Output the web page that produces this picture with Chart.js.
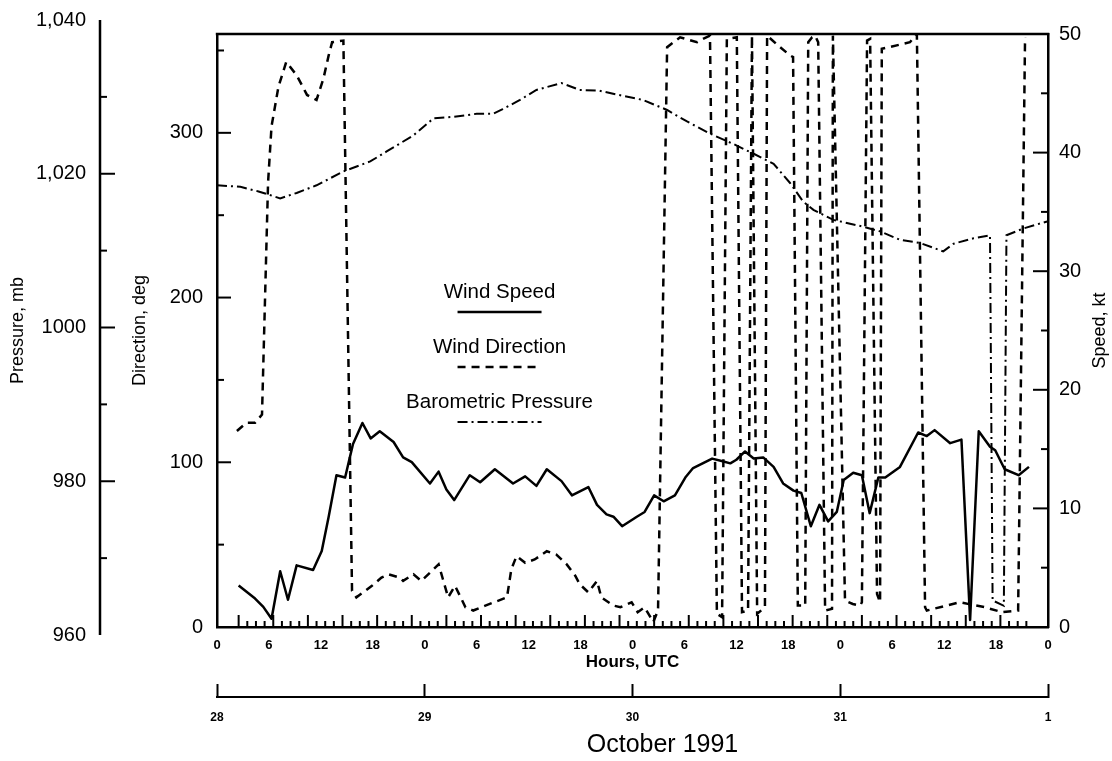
<!DOCTYPE html>
<html>
<head>
<meta charset="utf-8">
<script src="https://cdn.jsdelivr.net/npm/chart.js@4.4.1/dist/chart.umd.min.js"></script>
<style>
html,body{margin:0;padding:0;background:#fff;}
#wrap{width:1112px;height:761px;position:relative;}
</style>
</head>
<body>
<div id="wrap"><canvas id="c"></canvas></div>
<script>
// ---------- data (hours from 00 UTC 28 Oct 1991) ----------
const speedHours = [2.5, 4.4, 5.35, 6.3, 7.3, 8.2, 9.2, 11.1, 12.1, 12.9, 13.8, 14.8, 15.7, 16.8, 17.75, 18.8, 20.4, 21.5, 22.5, 24.6, 25.6, 26.5, 27.4, 29.2, 30.4, 32.1, 34.2, 35.6, 36.9, 38.1, 39.8, 41.0, 42.9, 43.9, 45.0, 45.8, 46.8, 48.5, 49.4, 50.5, 51.6, 52.9, 54.1, 55.0, 57.2, 58.3, 59.3, 60.0, 61.0, 62.0, 63.1, 64.3, 65.4, 66.6, 67.5, 68.6, 69.6, 70.6, 71.6, 72.4, 73.5, 74.5, 75.4, 76.4, 77.2, 78.9, 81.0, 82.0, 82.9, 84.7, 86.0, 87.0, 88.0, 89.3, 89.9, 91.0, 92.6, 93.8];
const speedKt = [3.5, 2.4, 1.7, 0.7, 4.7, 2.3, 5.2, 4.8, 6.4, 9.3, 12.8, 12.6, 15.4, 17.2, 15.9, 16.5, 15.6, 14.3, 13.9, 12.1, 13.1, 11.6, 10.7, 12.8, 12.2, 13.3, 12.1, 12.7, 11.9, 13.3, 12.3, 11.1, 11.8, 10.3, 9.5, 9.3, 8.5, 9.3, 9.7, 11.1, 10.6, 11.1, 12.6, 13.4, 14.2, 14.0, 13.8, 14.1, 14.8, 14.2, 14.3, 13.5, 12.1, 11.5, 11.3, 8.5, 10.3, 8.9, 9.7, 12.4, 13.0, 12.8, 9.6, 12.6, 12.6, 13.5, 16.4, 16.1, 16.6, 15.5, 15.8, 0.6, 16.5, 15.2, 14.9, 13.3, 12.8, 13.5];

const dirHours = [2.3, 3.4, 4.4, 5.2, 5.9, 6.3, 7.1, 8.0, 9.2, 10.4, 11.5, 12.3, 12.9, 13.3, 14.6, 15.6, 16.1, 17.9, 19.0, 19.8, 21.1, 21.5, 22.7, 23.6, 25.0, 25.6, 26.1, 26.7, 27.5, 28.7, 29.6, 31.0, 33.5, 34.0, 34.6, 35.6, 36.7, 38.1, 39.2, 40.4, 41.4, 41.9, 42.9, 43.9, 44.4, 45.8, 46.6, 47.9, 48.6, 49.4, 50.4, 50.95, 52.0, 53.5, 55.45, 56.15, 56.95, 57.75, 58.35, 58.9, 60.05, 60.65, 61.35, 61.8, 62.4, 63.3, 63.55, 65.05, 66.2, 66.55, 67.1, 67.95, 68.3, 68.75, 69.1, 69.45, 70.25, 71.05, 71.15, 72.55, 73.45, 74.3, 74.5, 75.1, 75.45, 76.25, 76.6, 76.8, 80.05, 80.85, 81.8, 82.0, 85.8, 88.7, 90.7, 92.55, 93.35];
const dirDeg = [119, 124, 124, 129, 270, 304, 328, 343, 335, 323, 320, 333, 347, 355, 356, 22, 18, 25, 30, 32, 30, 28, 32, 28, 35, 38, 29, 18, 25, 12, 10, 13, 18, 35, 43, 39, 41, 46, 44, 38, 31, 26, 21, 28, 18, 13, 12, 15, 9, 12, 3, 10, 352, 358, 355, 357, 359, 8, 6, 357, 358, 9, 10, 359, 8, 12, 359, 352, 347, 346, 13, 13, 355, 358, 359, 355, 10, 11, 359, 16, 14, 13, 15, 356, 357, 20, 15, 351, 355, 360, 12, 10, 15, 12, 9, 10, 358];

const pressHours = [0, 2.7, 4.8, 7.3, 9.2, 11.5, 14.6, 17.7, 19.6, 22.7, 25.0, 27.3, 30.0, 31.9, 33.0, 35.0, 36.9, 39.8, 41.9, 44.2, 46.6, 49.2, 52.0, 54.3, 57.0, 59.6, 62.0, 64.3, 66.2, 67.7, 68.9, 71.2, 74.7, 76.6, 78.9, 81.2, 83.9, 85.1, 87.4, 89.3, 89.6, 90.9, 91.2, 93.2, 95.9];
const pressMb = [1018.5, 1018.3, 1017.7, 1016.8, 1017.5, 1018.5, 1020.3, 1021.6, 1022.9, 1025.0, 1027.2, 1027.4, 1027.8, 1027.8, 1028.4, 1029.6, 1030.9, 1031.8, 1030.9, 1030.8, 1030.2, 1029.6, 1028.3, 1026.8, 1025.2, 1023.9, 1022.6, 1021.3, 1018.8, 1016.4, 1015.3, 1014.0, 1013.1, 1012.5, 1011.4, 1011.0, 1009.9, 1010.9, 1011.6, 1012.0, 964.5, 963.8, 1012.0, 1012.9, 1013.8];

// ---------- axis ticks / labels ----------
const hourTickValues = [0, 6, 12, 18, 24, 30, 36, 42, 48, 54, 60, 66, 72, 78, 84, 90, 96];
const hourTickLabels = ['0','6','12','18','0','6','12','18','0','6','12','18','0','6','12','18','0'];
const dayTickValues = [0, 24, 48, 72, 96];
const dayTickLabels = ['28', '29', '30', '31', '1'];
const dirTickValues = [0, 100, 200, 300];
const dirMinorValues = [50, 100, 150, 200, 250, 300, 350];
const speedTickValues = [0, 10, 20, 30, 40, 50];
const speedMinorValues = [5, 10, 15, 20, 25, 30, 35, 40, 45];
const pressTickValues = [960, 980, 1000, 1020, 1040];
const pressTickLabels = ['960', '980', '1000', '1,020', '1,040'];
const pressMinorValues = [970, 980, 990, 1000, 1010, 1020, 1030];
const rugStart = 2.5, rugEnd = 93.5;   // hourly sample marks along the time axis
const seriesNames = ['Wind Speed', 'Wind Direction', 'Barometric Pressure'];

const FONT = "'Liberation Sans', Arial, Helvetica, sans-serif";
Chart.defaults.font.family = FONT;
Chart.defaults.color = '#000';

const toXY = (xs, ys) => xs.map((x, i) => ({x: x, y: ys[i]}));

function hline(ctx, x1, y1, x2, y2) { ctx.beginPath(); ctx.moveTo(x1, y1); ctx.lineTo(x2, y2); ctx.stroke(); }

const decor = {
  id: 'decor',
  afterDraw(chart) {
    const {ctx, chartArea: a, scales} = chart;
    ctx.save();
    ctx.strokeStyle = '#000';
    ctx.fillStyle = '#000';
    // top frame line
    ctx.lineWidth = 2.5;
    hline(ctx, a.left - 1.2, a.top, a.right + 1.2, a.top);
    // inward ticks on direction axis
    ctx.lineWidth = 2;
    dirMinorValues.forEach(v => {
      const y = scales.yDir.getPixelForValue(v);
      hline(ctx, a.left, y, a.left + (v % 100 === 0 ? 14 : 7), y);
    });
    // inward ticks on speed axis
    speedMinorValues.forEach(v => {
      const y = scales.ySpeed.getPixelForValue(v);
      hline(ctx, a.right, y, a.right - (v % 10 === 0 ? 15 : 7), y);
    });
    // pressure axis: free-standing line with ticks pointing right
    const ps = scales.yPress;
    const px = ps.right;
    ctx.lineWidth = 2.5;
    hline(ctx, px, ps.getPixelForValue(pressTickValues[pressTickValues.length - 1]), px, ps.getPixelForValue(pressTickValues[0]));
    ctx.lineWidth = 2;
    pressMinorValues.forEach(v => {
      const y = ps.getPixelForValue(v);
      hline(ctx, px, y, px + (v % 20 === 0 ? 15 : 7), y);
    });
    // rug of hourly sample marks
    for (let h = rugStart, k = 0; h <= rugEnd + 1e-9; h += 1, k++) {
      const x = scales.x.getPixelForValue(h);
      hline(ctx, x, a.bottom, x, a.bottom - (k % 4 === 0 ? 12 : 6));
    }
    // right axis title (reads bottom-to-top like the left ones)
    ctx.save();
    ctx.translate(scales.ySpeed.right - 12, (a.top + a.bottom) / 2);
    ctx.rotate(-Math.PI / 2);
    ctx.font = '18px ' + FONT;
    ctx.textAlign = 'center';
    ctx.textBaseline = 'middle';
    ctx.fillText('Speed, kt', 0, 0);
    ctx.restore();
    // date caption
    ctx.font = '25px ' + FONT;
    ctx.textAlign = 'center';
    ctx.textBaseline = 'middle';
    ctx.fillText('October 1991', scales.xDate.getPixelForValue(48) + 30, 745);
    // in-plot legend
    const lx = a.left + 0.34 * (a.right - a.left);
    const rows = [292, 347, 402];
    chart.data.datasets.forEach((ds, i) => {
      ctx.font = '20.5px ' + FONT;
      ctx.fillText(seriesNames[i], lx, rows[i]);
      ctx.lineWidth = ds.borderWidth;
      ctx.setLineDash(ds.borderDash || []);
      hline(ctx, lx - 42, rows[i] + 20, lx + 42, rows[i] + 20);
      ctx.setLineDash([]);
    });
    ctx.restore();
  }
};

new Chart(document.getElementById('c'), {
  type: 'line',
  data: {
    datasets: [
      {label: seriesNames[0], data: toXY(speedHours, speedKt), yAxisID: 'ySpeed', borderColor: '#000', borderWidth: 2.5, borderJoinStyle: 'round', pointRadius: 0, tension: 0, fill: false},
      {label: seriesNames[1], data: toXY(dirHours, dirDeg), yAxisID: 'yDir', borderColor: '#000', borderWidth: 2.5, borderDash: [8, 6], pointRadius: 0, tension: 0, fill: false},
      {label: seriesNames[2], data: toXY(pressHours, pressMb), yAxisID: 'yPress', borderColor: '#000', borderWidth: 2, borderDash: [10, 4, 2, 4], pointRadius: 0, tension: 0, fill: false}
    ]
  },
  options: {
    responsive: true,
    maintainAspectRatio: false,
    animation: false,
    devicePixelRatio: 1,
    events: [],
    layout: {padding: {top: 34, bottom: 0, left: 0, right: 0}},
    plugins: {legend: {display: false}, tooltip: {enabled: false}, title: {display: false}},
    scales: {
      x: {
        type: 'linear', position: 'bottom', min: 0, max: 96, weight: 0,
        afterBuildTicks: s => { s.ticks = hourTickValues.map(v => ({value: v})); },
        ticks: {autoSkip: false, maxRotation: 0, padding: 11, font: {size: 13, weight: 'bold'}, color: '#000',
                callback: (v, i) => hourTickLabels[i]},
        grid: {display: false, drawTicks: false},
        border: {display: true, color: '#000', width: 2.5},
        title: {display: true, text: 'Hours, UTC', font: {size: 17, weight: 'bold'}, color: '#000', padding: {top: 0, bottom: 24}},
        afterFit: s => { s.height = 70; }
      },
      xDate: {
        type: 'linear', position: 'bottom', min: 0, max: 96, weight: 1,
        afterBuildTicks: s => { s.ticks = dayTickValues.map(v => ({value: v})); },
        ticks: {autoSkip: false, maxRotation: 0, padding: 26, font: {size: 12, weight: 'bold'}, color: '#000',
                callback: (v, i) => dayTickLabels[i]},
        grid: {display: true, drawOnChartArea: false, drawTicks: true, tickLength: -13, tickWidth: 2, tickColor: '#000', color: '#000'},
        border: {display: true, color: '#000', width: 2},
        title: {display: false},
        afterFit: s => { s.height = 64; }
      },
      yDir: {
        type: 'linear', position: 'left', min: 0, max: 360, weight: 0,
        afterBuildTicks: s => { s.ticks = dirTickValues.map(v => ({value: v})); },
        ticks: {autoSkip: false, padding: 14, font: {size: 20}, color: '#000', callback: v => String(v)},
        grid: {display: false, drawTicks: false},
        border: {display: true, color: '#000', width: 2.5},
        title: {display: true, text: 'Direction, deg', font: {size: 18}, color: '#000', padding: {top: 29, bottom: 0}},
        afterFit: s => { s.width = 117; }
      },
      yPress: {
        // range of the frame; the pressure axis itself runs 960-1040 beyond it
        type: 'linear', position: 'left', min: 961.04, max: 1038.18, weight: 1,
        afterBuildTicks: s => { s.ticks = pressTickValues.map(v => ({value: v})); },
        ticks: {autoSkip: false, padding: 14, font: {size: 20}, color: '#000', callback: (v, i) => pressTickLabels[i]},
        grid: {display: false, drawTicks: false},
        border: {display: false},
        title: {display: true, text: 'Pressure, mb', font: {size: 18}, color: '#000', padding: {top: 7, bottom: 0}},
        afterFit: s => { s.width = 100; }
      },
      ySpeed: {
        type: 'linear', position: 'right', min: 0, max: 50,
        afterBuildTicks: s => { s.ticks = speedTickValues.map(v => ({value: v})); },
        ticks: {autoSkip: false, padding: 11, font: {size: 20}, color: '#000', callback: v => String(v)},
        grid: {display: false, drawTicks: false},
        border: {display: true, color: '#000', width: 2.5},
        title: {display: false},
        afterFit: s => { s.width = 64; }
      }
    }
  },
  plugins: [decor]
});
</script>
</body>
</html>
